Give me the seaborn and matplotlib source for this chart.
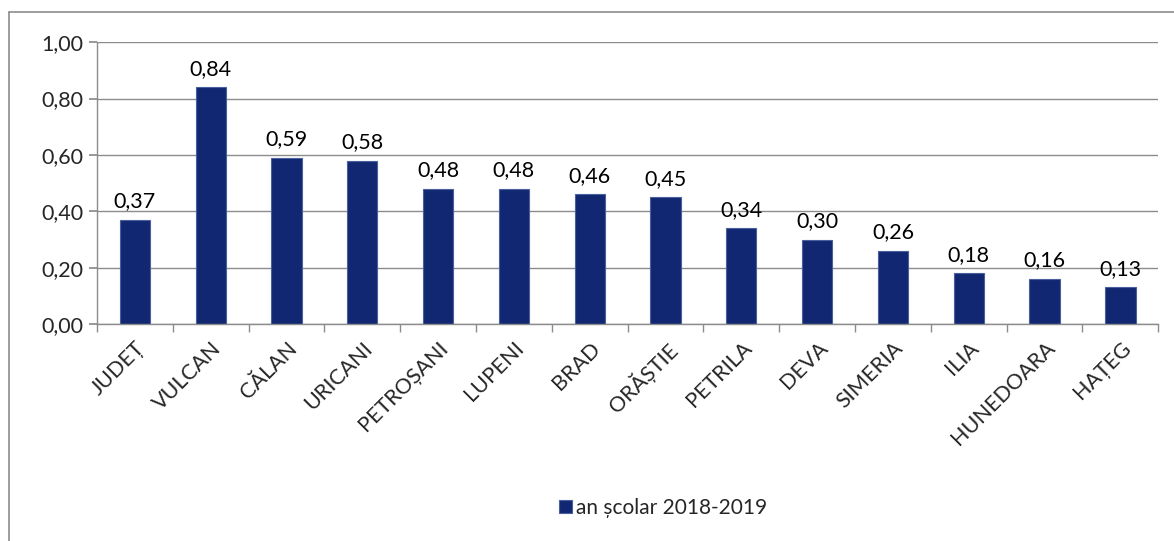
import pandas as pd
import seaborn as sns
import matplotlib.pyplot as plt
from matplotlib.lines import Line2D

# Data
localitati = ['JUDEȚ', 'VULCAN', 'CĂLAN', 'URICANI', 'PETROȘANI', 'LUPENI', 'BRAD',
              'ORĂȘTIE', 'PETRILA', 'DEVA', 'SIMERIA', 'ILIA', 'HUNEDOARA', 'HAȚEG']
valori = [0.37, 0.84, 0.59, 0.58, 0.48, 0.48, 0.46, 0.45, 0.34, 0.30, 0.26, 0.18, 0.16, 0.13]
serie = 'an școlar 2018-2019'

df = pd.DataFrame({'Localitate': localitati, 'Valoare': valori, 'Serie': serie})

sns.set_theme(style='white')
plt.rcParams['font.family'] = ['Lato', 'DejaVu Sans']
fs = 15.5

fig = plt.figure(figsize=(11.74, 5.41), dpi=100)
ax = fig.add_axes([0.0826, 0.401, 0.904, 0.521])

bar_color = '#112771'
sns.barplot(data=df, x='Localitate', y='Valoare', hue='Serie', palette=[bar_color],
            saturation=1, width=0.4, ax=ax, edgecolor='#4A5F9E', linewidth=0.8)

# Data labels with comma decimal separator
for i, v in enumerate(valori):
    ax.text(i, v + 0.03, f'{v:.2f}'.replace('.', ','), ha='center', va='bottom',
            fontsize=fs, color='black')

ax.set_ylim(0, 1.0)
ax.set_xlim(-0.5, len(localitati) - 0.5)
yt = [0, 0.2, 0.4, 0.6, 0.8, 1.0]
ax.set_yticks(yt)
ax.set_yticklabels([f'{t:.2f}'.replace('.', ',') for t in yt], fontsize=fs)
ax.yaxis.grid(True, color='#8C8C8C', linewidth=1)
ax.set_axisbelow(True)

ax.set_xticks(range(len(localitati)))
ax.set_xticklabels(localitati, rotation=45, ha='right', rotation_mode='anchor', fontsize=fs)
ax.tick_params(axis='x', length=0, pad=10)
ax.tick_params(axis='y', length=6, color='#8C8C8C', direction='out', left=True, pad=4)
# Excel-style ticks between categories
ax.set_xticks([i + 0.5 for i in range(-1, len(localitati))], minor=True)
ax.tick_params(axis='x', which='minor', length=6, color='#8C8C8C', direction='out', bottom=True)

for s in ['top', 'right']:
    ax.spines[s].set_visible(False)
for s in ['left', 'bottom']:
    ax.spines[s].set_color('#8C8C8C')
    ax.spines[s].set_linewidth(1)
ax.set_xlabel('')
ax.set_ylabel('')

leg = ax.legend(loc='center', frameon=False, fontsize=fs - 0.5, handlelength=0.6, handleheight=0.6,
                handletextpad=0.2)
leg.set_bbox_to_anchor((0.565, 1 - 508 / 541), transform=fig.transFigure)

# Outer chart border (top and left visible in the reference)
fig.add_artist(Line2D([8.5 / 1174, 1], [1 - 12 / 541, 1 - 12 / 541], transform=fig.transFigure,
                      color='#8C8C8C', linewidth=1.2))
fig.add_artist(Line2D([8.5 / 1174, 8.5 / 1174], [0, 1 - 12 / 541], transform=fig.transFigure,
                      color='#8C8C8C', linewidth=1.2))

fig.savefig('out.png', dpi=100)
